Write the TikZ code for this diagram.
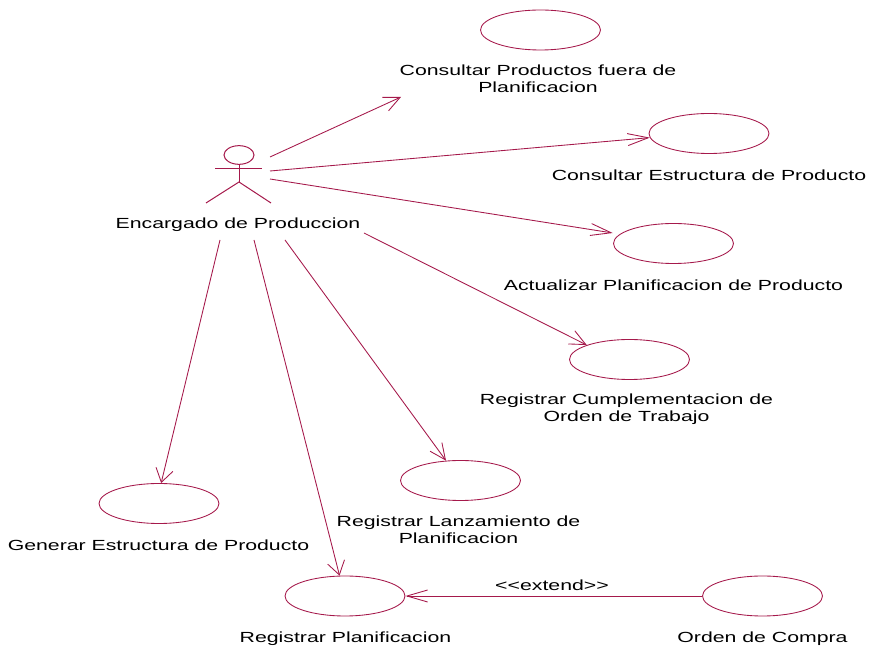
\documentclass[tikz,border=0pt]{standalone}
\usepackage{fontspec}
\setmainfont[FakeStretch=1.45]{Liberation Sans}
\usetikzlibrary{arrows.meta,shapes.geometric}
\definecolor{umlred}{RGB}{165,25,75}
\tikzset{
  x=0.75pt,y=-0.75pt,
  usecase/.style={draw=umlred,line width=0.65pt,ellipse,minimum width=90pt,minimum height=30pt,inner sep=0pt},
  lbl/.style={align=center,font=\fontsize{11pt}{12.75pt}\selectfont,text=black,inner sep=0pt},
  assoc/.style={draw=umlred,line width=0.65pt,-{Straight Barb[length=12pt,width=11pt,line width=0.65pt]}},
  assocflat/.style={draw=umlred,line width=0.65pt,-{Straight Barb[length=15.5pt,width=9pt,line width=0.65pt]}},
  assocsteep/.style={draw=umlred,line width=0.65pt,-{Straight Barb[length=10pt,width=13pt,line width=0.65pt]}},
  actorline/.style={draw=umlred,line width=0.75pt}
}
\begin{document}
\begin{tikzpicture}
\useasboundingbox (0,0) rectangle (869,648);
\node[usecase] (u1) at (540.5,30) {};
\node[usecase] (u2) at (709,133.5) {};
\node[usecase] (u3) at (673.5,243.5) {};
\node[usecase] (u4) at (629.5,359.5) {};
\node[usecase] (u5) at (460.5,480.5) {};
\node[usecase] (u6) at (159,503.5) {};
\node[usecase] (u7) at (345,596) {};
\node[usecase] (u8) at (762.5,596) {};
\node[lbl] (l1) at (538,79) {Consultar Productos fuera de\\Planificacion};
\node[lbl] (l2) at (709,175) {Consultar Estructura de Producto};
\node[lbl] (l3) at (673.5,285) {Actualizar Planificacion de Producto};
\node[lbl] (l4) at (626.5,409.5) {Registrar Cumplementacion de\\Orden de Trabajo};
\node[lbl] (l5) at (458.5,530) {Registrar Lanzamiento de\\Planificacion};
\node[lbl] (l6) at (158.5,545) {Generar Estructura de Producto};
\node[lbl] (l7) at (345.5,639) {Registrar Planificacion};
\node[lbl] (l8) at (762.5,639) {Orden de Compra};
\node[lbl] (ex) at (552,585.5) {<{}<extend>{}>};
\node[lbl] (act) at (238,224.5) {Encargado de Produccion};
% actor
\node[actorline,ellipse,minimum width=22.5pt,minimum height=14pt,inner sep=0pt] (head) at (239,155) {};
\coordinate (hip) at (239,182);
\coordinate (armL) at (215,169);
\coordinate (armR) at (262,169);
\coordinate (legL) at (206,203);
\coordinate (legR) at (271,203);
\draw[actorline] (head.south) -- (hip);
\draw[actorline] (armL) -- (armR);
\draw[actorline] (legL) -- (hip) -- (legR);
% association start points
\coordinate (a1) at (270,157);
\coordinate (a2) at (270,171);
\coordinate (a3) at (270,179);
\coordinate (a4) at (364,233);
\coordinate (a5) at (285,240);
\coordinate (a6) at (220,240);
\coordinate (a7) at (254,240);
\coordinate (e1) at (401,97);
\coordinate (e3) at (612.7,233);
\draw[assoc] (a1) -- (e1);
\draw[assocflat] (a2) -- (u2.184);
\draw[assocflat] (a3) -- (e3);
\draw[assoc] (a4) -- (u4.north west);
\draw[assoc] (a5) -- (u5);
\draw[assocsteep] (a6) -- (u6.84);
\draw[assocsteep] (a7) -- (u7.105);
\draw[assocflat] (u8) -- (u7);
\end{tikzpicture}
\end{document}
